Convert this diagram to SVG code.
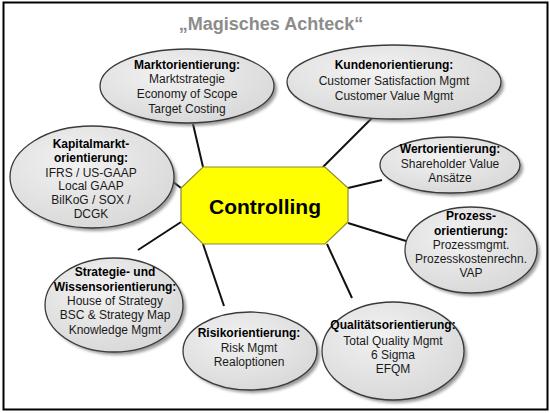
<svg xmlns="http://www.w3.org/2000/svg" width="550" height="413" viewBox="0 0 550 413">
<defs>
<radialGradient id="eg" cx="0.4" cy="0.35" r="0.75">
<stop offset="0" stop-color="#f2f2f2"/>
<stop offset="1" stop-color="#d6d6d6"/>
</radialGradient>
<filter id="sh" x="-20%" y="-20%" width="140%" height="140%">
<feGaussianBlur stdDeviation="1.5"/>
</filter>
</defs>
<style>
.frame{fill:#ffffff;stroke:#000000;stroke-width:2}
.title{font-family:"Liberation Sans",Arial,sans-serif;font-size:18px;font-weight:bold;fill:#8c8c8c;text-anchor:middle}
.ell{fill:url(#eg);stroke:#3a3a3a;stroke-width:1.3}
.shadow{fill:#6e6e6e;opacity:0.7;filter:url(#sh)}
.h{font-family:"Liberation Sans",Arial,sans-serif;font-size:12px;font-weight:bold;fill:#000;text-anchor:middle}
.t{font-family:"Liberation Sans",Arial,sans-serif;font-size:12px;fill:#1a1a1a;text-anchor:middle}
.conn line{stroke:#111;stroke-width:2}
.oct{fill:#ffff00;stroke:#8a8a40;stroke-width:1.2}
.ctext{font-family:"Liberation Sans",Arial,sans-serif;font-size:21px;font-weight:bold;fill:#000;text-anchor:middle}
</style>
<rect class="frame" x="3.5" y="2.5" width="544" height="407"/>
<text class="title" x="271" y="30">„Magisches Achteck“</text>

<g id="connectors" class="conn">
<line x1="203" y1="167" x2="193" y2="124"/>
<line x1="323" y1="167" x2="372" y2="118"/>
<line x1="348" y1="188" x2="382" y2="180"/>
<line x1="348" y1="223" x2="406" y2="241"/>
<line x1="327" y1="244" x2="352" y2="298"/>
<line x1="203" y1="244" x2="224" y2="306"/>
<line x1="181" y1="222" x2="138" y2="250"/>
<line x1="181" y1="188" x2="172" y2="181"/>
</g>

<g id="controlling">
<polygon class="oct" points="203,167 325,167 348,188 348,222 325,244 203,244 181,222 181,188"/>
<text class="ctext" x="265" y="214">Controlling</text>
</g>

<g id="marktorientierung">
<ellipse class="shadow" cx="190" cy="89" rx="87" ry="37"/>
<ellipse class="ell" cx="187" cy="86" rx="87" ry="37"/>
<text class="h" x="187" y="69">Marktorientierung:</text>
<text class="t" x="187" y="83">Marktstrategie</text>
<text class="t" x="187" y="98">Economy of Scope</text>
<text class="t" x="187" y="113">Target Costing</text>
</g>

<g id="kundenorientierung">
<ellipse class="shadow" cx="397" cy="85" rx="107" ry="37"/>
<ellipse class="ell" cx="394" cy="82" rx="107" ry="37"/>
<text class="h" x="394" y="69">Kundenorientierung:</text>
<text class="t" x="394" y="85">Customer Satisfaction Mgmt</text>
<text class="t" x="394" y="100">Customer Value Mgmt</text>
</g>

<g id="wertorientierung">
<ellipse class="shadow" cx="453" cy="168" rx="70" ry="28"/>
<ellipse class="ell" cx="450" cy="165" rx="70" ry="28"/>
<text class="h" x="450" y="153">Wertorientierung:</text>
<text class="t" x="450" y="168">Shareholder Value</text>
<text class="t" x="450" y="182">Ansätze</text>
</g>

<g id="prozessorientierung">
<ellipse class="shadow" cx="474" cy="253" rx="66" ry="43"/>
<ellipse class="ell" cx="471" cy="250" rx="66" ry="43"/>
<text class="h" x="471" y="220">Prozess-</text>
<text class="h" x="471" y="235">orientierung:</text>
<text class="t" x="471" y="249">Prozessmgmt.</text>
<text class="t" x="471" y="263">Prozesskostenrechn.</text>
<text class="t" x="471" y="277">VAP</text>
</g>

<g id="kapitalmarktorientierung">
<ellipse class="shadow" cx="95" cy="180" rx="82" ry="51"/>
<ellipse class="ell" cx="92" cy="177" rx="82" ry="51"/>
<text class="h" x="91" y="148">Kapitalmarkt-</text>
<text class="h" x="91" y="162">orientierung:</text>
<text class="t" x="91" y="177">IFRS / US-GAAP</text>
<text class="t" x="91" y="190">Local GAAP</text>
<text class="t" x="91" y="204">BilKoG / SOX /</text>
<text class="t" x="91" y="218">DCGK</text>
</g>

<g id="strategieorientierung">
<ellipse class="shadow" cx="117" cy="308" rx="69" ry="47"/>
<ellipse class="ell" cx="114" cy="305" rx="69" ry="47"/>
<text class="h" x="115" y="276">Strategie- und</text>
<text class="h" x="115" y="291">Wissensorientierung:</text>
<text class="t" x="115" y="305">House of Strategy</text>
<text class="t" x="115" y="319">BSC &amp; Strategy Map</text>
<text class="t" x="115" y="334">Knowledge Mgmt</text>
</g>

<g id="risikorientierung">
<ellipse class="shadow" cx="253" cy="354" rx="67" ry="39"/>
<ellipse class="ell" cx="250" cy="351" rx="67" ry="39"/>
<text class="h" x="249" y="337">Risikorientierung:</text>
<text class="t" x="249" y="352">Risk Mgmt</text>
<text class="t" x="249" y="366">Realoptionen</text>
</g>

<g id="qualitaetsorientierung">
<ellipse class="shadow" cx="396" cy="354" rx="71" ry="49"/>
<ellipse class="ell" cx="393" cy="351" rx="71" ry="49"/>
<text class="h" x="393" y="329">Qualitätsorientierung:</text>
<text class="t" x="393" y="345">Total Quality Mgmt</text>
<text class="t" x="393" y="359">6 Sigma</text>
<text class="t" x="393" y="373">EFQM</text>
</g>
</svg>
